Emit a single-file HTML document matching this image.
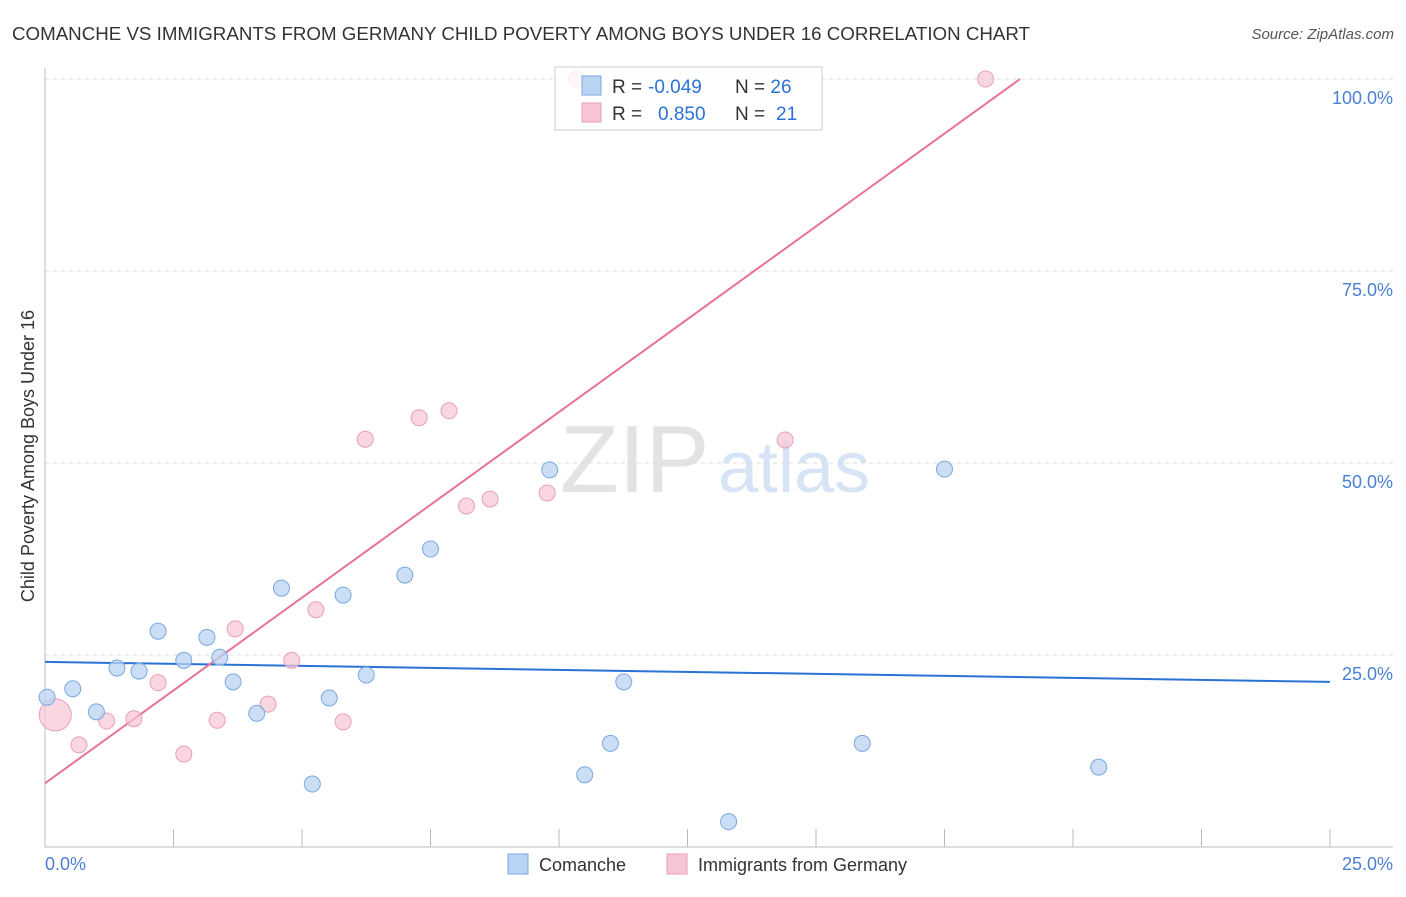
<!DOCTYPE html>
<html><head><meta charset="utf-8"><style>
body{margin:0;background:#fff;font-family:"Liberation Sans",sans-serif;}
svg text{font-family:"Liberation Sans",sans-serif;}
</style></head><body>
<svg width="1406" height="892" id="c">
<text x="12" y="40" font-size="18" fill="#333" textLength="1018" lengthAdjust="spacingAndGlyphs">COMANCHE VS IMMIGRANTS FROM GERMANY CHILD POVERTY AMONG BOYS UNDER 16 CORRELATION CHART</text>
<text x="1394" y="39" font-size="15" fill="#555" font-style="italic" text-anchor="end">Source: ZipAtlas.com</text>
<text x="560" y="492" font-size="96" fill="#e3e3e3" font-family="Liberation Serif">ZIP</text>
<text x="718" y="492" font-size="72" fill="#d6e4f5">atlas</text>
<text transform="translate(34,456) rotate(-90)" font-size="18" fill="#333" text-anchor="middle">Child Poverty Among Boys Under 16</text>
<g id="grid"></g><g id="lines"></g><g id="pts"></g>
<g>
<rect x="555" y="67" width="267" height="63" fill="#fff" fill-opacity="0.8" stroke="#ccc"/>
<rect x="582" y="76" width="19" height="19" fill="#b9d3f3" stroke="#7aa8e0"/>
<text x="612" y="93" font-size="19" fill="#333">R =</text>
<text x="648" y="93" font-size="19" fill="#2a72d6">-0.049</text>
<text x="735" y="93" font-size="19" fill="#333">N = <tspan fill="#2a72d6">26</tspan></text>
<rect x="582" y="103" width="19" height="19" fill="#f8c5d4" stroke="#e8a0b8"/>
<text x="612" y="120" font-size="19" fill="#333">R =</text>
<text x="658" y="120" font-size="19" fill="#2a72d6">0.850</text>
<text x="735" y="120" font-size="19" fill="#333">N =  <tspan fill="#2a72d6" x="776">21</tspan></text>
</g>
<g>
<rect x="508" y="854" width="20" height="20" fill="#b9d3f3" stroke="#7aa8e0"/>
<text x="539" y="871" font-size="18" fill="#333">Comanche</text>
<rect x="667" y="854" width="20" height="20" fill="#f8c5d4" stroke="#e8a0b8"/>
<text x="698" y="871" font-size="18" fill="#333">Immigrants from Germany</text>
</g>
</svg>
<script>
const yTicks=[100,75,50,25];
const yTickLabels=["100.0%","75.0%","50.0%","25.0%"];
const xTicks=[0,2.5,5,7.5,10,12.5,15,17.5,20,22.5,25];
const comX=[0.04,0.54,1.0,1.4,1.83,2.2,2.7,3.15,3.4,3.66,4.12,4.6,5.2,5.53,5.8,6.25,7.0,7.5,9.82,10.5,11.0,11.26,13.3,15.9,17.5,20.5];
const comY=[19.5,20.6,17.6,23.3,22.9,28.1,24.3,27.3,24.7,21.5,17.4,33.7,8.2,19.4,32.8,22.4,35.4,38.8,49.1,9.4,13.5,21.5,3.3,13.5,49.2,10.4];
const gerX=[0.2,0.66,1.2,1.73,2.2,2.7,3.35,3.7,4.34,4.8,5.27,5.8,6.23,7.28,7.86,8.2,8.66,9.77,10.35,14.4,18.3];
const gerY=[17.2,13.3,16.4,16.7,21.4,12.1,16.5,28.4,18.6,24.3,30.9,16.3,53.1,55.9,56.8,44.4,45.3,46.1,100,53.0,100];
const comLine=[[0,24.1],[25,21.5]];
const gerLine=[[0,8.3],[18.97,100]];
const X=v=>45+v*51.4, Y=v=>847-v*7.68;
const NS="http://www.w3.org/2000/svg";
function mk(t,a,p){const e=document.createElementNS(NS,t);for(const k in a)e.setAttribute(k,a[k]);p.appendChild(e);return e;}
const g=document.getElementById('grid');
yTicks.forEach((t,i)=>{
 const l=mk('line',{x1:45,x2:1393,y1:Y(t),y2:Y(t),stroke:'#ddd','stroke-dasharray':'4,4'},g);
 
 
 const tx=mk('text',{x:1393,y:Y(t)+25,'font-size':18,fill:'#4a7fd4','text-anchor':'end'},g);
 tx.textContent=yTickLabels[i];
 
 
});
const ax=mk('line',{x1:45,x2:45,y1:68,y2:847,stroke:'#bbb'},g);


const bx=mk('line',{x1:45,x2:1393,y1:847,y2:847,stroke:'#bbb'},g);


xTicks.forEach(t=>{
 const l=mk('line',{x1:X(t),x2:X(t),y1:829,y2:847,stroke:'#bbb'},g);
 
 
});
const x0=mk('text',{x:45,y:870,'font-size':18,fill:'#4a7fd4'},g);x0.textContent='0.0%';


const x1=mk('text',{x:1393,y:870,'font-size':18,fill:'#4a7fd4','text-anchor':'end'},g);x1.textContent='25.0%';


const p=document.getElementById('pts');
gerX.forEach((v,i)=>{
 const c=mk('circle',{cx:X(v),cy:Y(gerY[i]),r:i==0?16:8,fill:'#f8c5d4','fill-opacity':0.7,stroke:'#e8a0b8'},p);
 
 
});
comX.forEach((v,i)=>{
 const c=mk('circle',{cx:X(v),cy:Y(comY[i]),r:8,fill:'#b9d3f3','fill-opacity':0.75,stroke:'#7aa8e0'},p);
 
 
});
const L=document.getElementById('lines');
const l1=mk('line',{x1:X(comLine[0][0]),y1:Y(comLine[0][1]),x2:X(comLine[1][0]),y2:Y(comLine[1][1]),stroke:'#2a72d6','stroke-width':2},L);


const l2=mk('line',{x1:X(gerLine[0][0]),y1:Y(gerLine[0][1]),x2:X(gerLine[1][0]),y2:Y(gerLine[1][1]),stroke:'#e8719a','stroke-width':2},L);


</script>
</body></html>
